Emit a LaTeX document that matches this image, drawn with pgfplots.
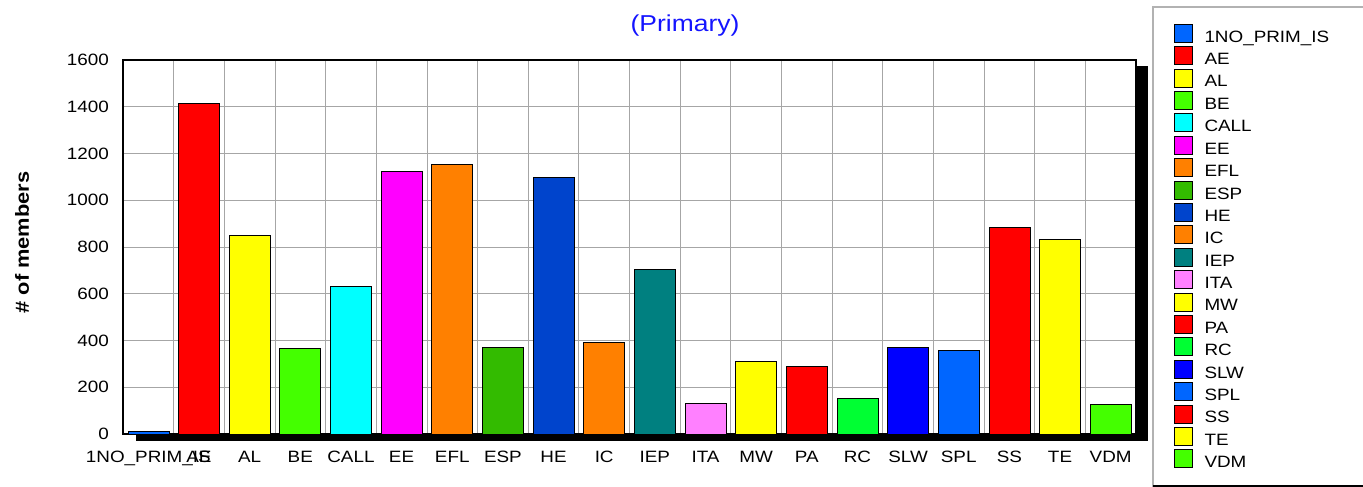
\documentclass[border=0pt]{standalone}
\usepackage{pgfplots}
\pgfplotsset{compat=1.18}
\usepackage{fontspec}
\setmainfont{Liberation Sans}[FakeStretch=1.15]
\definecolor{cNO}{HTML}{0066FF}
\definecolor{cAE}{HTML}{FF0000}
\definecolor{cAL}{HTML}{FFFF00}
\definecolor{cBE}{HTML}{44FF00}
\definecolor{cCALL}{HTML}{00FFFF}
\definecolor{cEE}{HTML}{FF00FF}
\definecolor{cEFL}{HTML}{FF8000}
\definecolor{cESP}{HTML}{33BB00}
\definecolor{cHE}{HTML}{0044CC}
\definecolor{cIC}{HTML}{FF8000}
\definecolor{cIEP}{HTML}{008080}
\definecolor{cITA}{HTML}{FF80FF}
\definecolor{cMW}{HTML}{FFFF00}
\definecolor{cPA}{HTML}{FF0000}
\definecolor{cRC}{HTML}{00FF33}
\definecolor{cSLW}{HTML}{0000FF}
\definecolor{cSPL}{HTML}{0066FF}
\definecolor{cSS}{HTML}{FF0000}
\definecolor{cTE}{HTML}{FFFF00}
\definecolor{cVDM}{HTML}{44FF00}
\definecolor{titleblue}{RGB}{20,20,255}
\pgfplotsset{mybar/.style={ybar, bar width=41pt, bar shift=0pt, fill=#1, draw=black, line width=0.6pt,
  legend image code/.code={\draw[fill=#1, draw=black, line width=0.6pt] (0pt,-6pt) rectangle (18pt,12pt);}}}
\begin{document}
\begin{tikzpicture}[x=1pt,y=1pt]
\useasboundingbox (0,0) rectangle (1363,487);
% shadow
\fill[black] (136,46) rectangle (1148,421);
% legend frame
\draw[gray!60, line width=1.5pt] (1153,1) rectangle (1420,480);
\draw[black, line width=1.5pt] (1153,1) -- (1420,1);
% title
\node[anchor=base, text=titleblue, font=\fontsize{23}{26}\selectfont] at (685,455) {(Primary)};
% y label
\node[rotate=90, font=\fontsize{19}{21}\selectfont\bfseries] at (22,244.5) {\# of members};
\begin{axis}[
  at={(123pt,53pt)}, anchor=south west,
  width=1013pt, height=374pt, scale only axis,
  xmin=-0.5, xmax=19.5, ymin=0, ymax=1600,
  ytick={0,200,...,1600},
  xtick={0,...,19},
  xticklabels={1NO\_PRIM\_IS,AE,AL,BE,CALL,EE,EFL,ESP,HE,IC,IEP,ITA,MW,PA,RC,SLW,SPL,SS,TE,VDM},
  minor xtick={0.5,1.5,...,18.5},
  xminorgrids=true, ymajorgrids=true, xmajorgrids=false,
  grid style={gray!70, line width=0.8pt},
  minor grid style={gray!70, line width=0.8pt},
  major tick length=0pt, minor tick length=0pt,
  axis background/.style={fill=white},
  axis line style={black, line width=1.2pt},
  /pgf/number format/assume math mode=true,
  /pgf/number format/1000 sep={},
  tick label style={font=\fontsize{16.4}{18}\selectfont},
  yticklabel style={anchor=east, inner sep=0pt, xshift=-14pt},
  xticklabel style={anchor=base, yshift=-29pt},
  legend cell align=left,
  legend style={at={(1.03722,1.09706)}, anchor=north west, draw=none, fill=none,
    inner sep=0pt, row sep=3.6pt, column sep=11.5pt,
    font=\fontsize{16.4}{18}\selectfont,
    nodes={inner sep=0.5pt, text height=12pt, text depth=0pt}},
]
\addplot[mybar=cNO] coordinates {(0,10)};
\addplot[mybar=cAE] coordinates {(1,1415)};
\addplot[mybar=cAL] coordinates {(2,848)};
\addplot[mybar=cBE] coordinates {(3,368)};
\addplot[mybar=cCALL] coordinates {(4,632)};
\addplot[mybar=cEE] coordinates {(5,1125)};
\addplot[mybar=cEFL] coordinates {(6,1155)};
\addplot[mybar=cESP] coordinates {(7,370)};
\addplot[mybar=cHE] coordinates {(8,1098)};
\addplot[mybar=cIC] coordinates {(9,392)};
\addplot[mybar=cIEP] coordinates {(10,703)};
\addplot[mybar=cITA] coordinates {(11,133)};
\addplot[mybar=cMW] coordinates {(12,313)};
\addplot[mybar=cPA] coordinates {(13,291)};
\addplot[mybar=cRC] coordinates {(14,152)};
\addplot[mybar=cSLW] coordinates {(15,370)};
\addplot[mybar=cSPL] coordinates {(16,358)};
\addplot[mybar=cSS] coordinates {(17,884)};
\addplot[mybar=cTE] coordinates {(18,833)};
\addplot[mybar=cVDM] coordinates {(19,127)};
\legend{1NO\_PRIM\_IS,AE,AL,BE,CALL,EE,EFL,ESP,HE,IC,IEP,ITA,MW,PA,RC,SLW,SPL,SS,TE,VDM}
\draw[black, line width=2pt] (rel axis cs:0,0) -- (rel axis cs:0,1);
\end{axis}
\end{tikzpicture}
\end{document}
